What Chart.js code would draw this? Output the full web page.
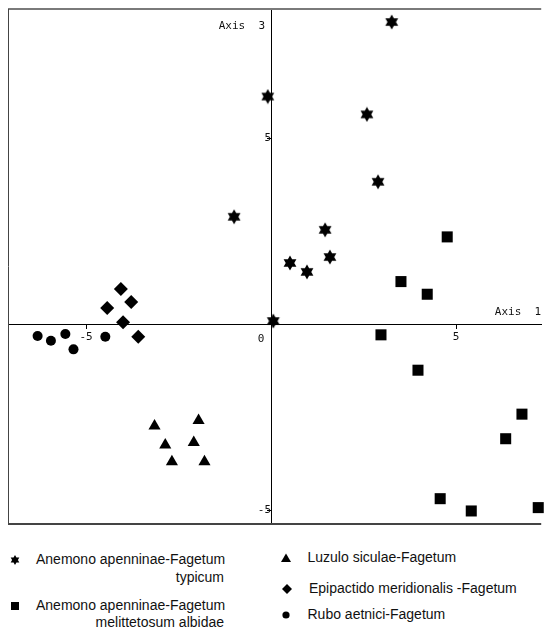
<!DOCTYPE html>
<html>
<head>
<meta charset="utf-8">
<script src="https://cdn.jsdelivr.net/npm/chart.js@4/dist/chart.umd.min.js"></script>
<style>
  body { margin: 0; background: #fff; width: 549px; height: 631px; position: relative; overflow: hidden; font-family: "Liberation Sans", Arial, sans-serif; }
  #wrap { position: absolute; left: 0; top: 0; width: 549px; height: 535px; }
  .leg { position: absolute; font-size: 14px; line-height: 17.6px; color: #111; white-space: nowrap; }
  .leg span { display: block; }
  .leg span.r { text-align: right; }
  canvas.mk { position: absolute; }
</style>
</head>
<body>
<div id="wrap"><canvas id="chart" width="549" height="535"></canvas></div>
<div id="legend"></div>
<script>
// axis ranges and ticks
const xMin = -7.11, xMax = 7.30;
const yMin = -5.36, yMax = 8.47;
const xTickValues = [-5, 0, 5];
const yTickValues = [-5, 0, 5];
const axisTitles = ['Axis  1', 'Axis  3'];
const originLabel = '0';

// series
const seriesLabels = [
  ['Anemono apenninae-Fagetum', 'typicum'],
  ['Anemono apenninae-Fagetum', 'melittetosum albidae'],
  ['Luzulo siculae-Fagetum'],
  ['Epipactido meridionalis -Fagetum'],
  ['Rubo aetnici-Fagetum']
];

const typicumX = [3.26, -0.09, 2.59, 2.89, -1.00, 1.46, 0.51, 0.97, 1.59, 0.06];
const typicumY = [8.12, 6.12, 5.64, 3.83, 2.89, 2.54, 1.65, 1.41, 1.81, 0.09];

const melittX = [4.76, 3.51, 4.22, 2.97, 3.97, 6.78, 6.34, 4.57, 5.41, 7.22];
const melittY = [2.35, 1.15, 0.81, -0.28, -1.23, -2.41, -3.07, -4.68, -5.01, -4.92];

const luzuloX = [-3.15, -1.96, -2.86, -2.09, -2.68, -1.80];
const luzuloY = [-2.73, -2.58, -3.24, -3.17, -3.69, -3.69];

const epipactidoX = [-4.06, -3.78, -4.43, -4.00, -3.59];
const epipactidoY = [0.95, 0.60, 0.44, 0.06, -0.33];

const ruboX = [-6.31, -5.95, -5.56, -5.34, -4.48];
const ruboY = [-0.31, -0.44, -0.26, -0.67, -0.33];

const toPoints = (xs, ys) => xs.map((x, i) => ({ x: x, y: ys[i] }));

// filled six-pointed star
function hexagram(ctx, cx, cy, R) {
  ctx.beginPath();
  for (let t = 0; t < 2; t++) {
    for (let i = 0; i < 3; i++) {
      const a = -Math.PI / 2 + t * Math.PI + i * 2 * Math.PI / 3;
      const px = cx + R * Math.cos(a), py = cy + R * Math.sin(a);
      if (i === 0) ctx.moveTo(px, py); else ctx.lineTo(px, py);
    }
    ctx.closePath();
  }
  ctx.fill();
}

const starImg = document.createElement('canvas');
starImg.width = 16; starImg.height = 16;
(function () {
  const c = starImg.getContext('2d');
  c.fillStyle = '#000';
  hexagram(c, 8, 8, 7.4);
})();

const FONT = '11px "DejaVu Sans Mono", monospace';

const framePlugin = {
  id: 'frame',
  beforeDatasetsDraw(chart) {
    const { ctx, chartArea: a, scales } = chart;
    const x0 = scales.x.getPixelForValue(0);
    const y0 = scales.y.getPixelForValue(0);
    ctx.save();
    ctx.strokeStyle = '#7a7a7a';
    ctx.lineWidth = 2;
    ctx.beginPath();
    ctx.moveTo(a.left, a.top);
    ctx.lineTo(a.right, a.top);
    ctx.stroke();
    ctx.strokeStyle = '#444';
    ctx.lineWidth = 1;
    ctx.beginPath();
    ctx.moveTo(a.left + 0.5, a.top);
    ctx.lineTo(a.left + 0.5, a.bottom);
    ctx.stroke();
    ctx.lineWidth = 2;
    ctx.beginPath();
    ctx.moveTo(a.left, a.bottom);
    ctx.lineTo(a.right, a.bottom);
    ctx.stroke();

    ctx.fillStyle = '#111';
    ctx.font = FONT;
    ctx.textBaseline = 'middle';
    ctx.textAlign = 'right';
    ctx.fillText(axisTitles[0], a.right, y0 - 12);
    ctx.fillText(axisTitles[1], x0 - 6, a.top + 17);
    ctx.textAlign = 'center';
    ctx.fillText(originLabel, x0 - 10, y0 + 15);
    ctx.restore();
  }
};

// the crossing axes should not push the plot area in
const noPadding = (s) => {
  s.paddingLeft = 0; s.paddingRight = 0; s.paddingTop = 0; s.paddingBottom = 0;
};

const axisCommon = {
  type: 'linear',
  grid: { display: true, drawOnChartArea: false, drawTicks: true, tickLength: 4, color: '#000' },
  border: { display: true, color: '#000', width: 1 },
  afterFit: noPadding,
  ticks: {
    color: '#111',
    padding: 2,
    autoSkip: false,
    maxRotation: 0,
    font: { family: 'DejaVu Sans Mono', size: 11 },
    callback: (v) => (v === 0 ? '' : String(v))
  }
};

new Chart(document.getElementById('chart'), {
  type: 'scatter',
  data: {
    datasets: [
      { label: seriesLabels[0].join(' '), data: toPoints(typicumX, typicumY), pointStyle: starImg, pointRadius: 7 },
      { label: seriesLabels[1].join(' '), data: toPoints(melittX, melittY), pointStyle: 'rect', pointRadius: 7.8 },
      { label: seriesLabels[2].join(' '), data: toPoints(luzuloX, luzuloY), pointStyle: 'triangle', pointRadius: 7 },
      { label: seriesLabels[3].join(' '), data: toPoints(epipactidoX, epipactidoY), pointStyle: 'rectRot', pointRadius: 7 },
      { label: seriesLabels[4].join(' '), data: toPoints(ruboX, ruboY), pointStyle: 'circle', pointRadius: 5 }
    ].map(d => Object.assign(d, { backgroundColor: '#000', borderColor: '#000', borderWidth: 0, clip: false }))
  },
  options: {
    responsive: false,
    animation: false,
    layout: { padding: { left: 8, top: 9, right: 0, bottom: 11 } },
    plugins: { legend: { display: false }, tooltip: { enabled: false } },
    scales: {
      x: Object.assign({}, axisCommon, {
        min: xMin, max: xMax,
        position: { y: 0 },
        afterBuildTicks: (s) => { s.ticks = xTickValues.map(v => ({ value: v })); }
      }),
      y: Object.assign({}, axisCommon, {
        min: yMin, max: yMax,
        position: { x: 0 },
        afterBuildTicks: (s) => { s.ticks = yTickValues.map(v => ({ value: v })); }
      })
    }
  },
  plugins: [framePlugin]
});

// legend (html)
const legendPos = [
  { mx: 15, my: 560, tx: 36, w: 188 },
  { mx: 15, my: 605.7, tx: 36, w: 188 },
  { mx: 286, my: 557.7, tx: 307.5 },
  { mx: 286.7, my: 589, tx: 309 },
  { mx: 286, my: 615, tx: 307.5 }
];

function drawMarker(c, i) {
  c.fillStyle = '#000';
  c.beginPath();
  if (i === 0) { hexagram(c, 7, 7, 5); return; }
  if (i === 1) c.rect(3, 3, 8, 8);
  if (i === 2) { c.moveTo(7, 2.5); c.lineTo(12, 11); c.lineTo(2, 11); c.closePath(); }
  if (i === 3) { c.moveTo(7, 2); c.lineTo(12, 7); c.lineTo(7, 12); c.lineTo(2, 7); c.closePath(); }
  if (i === 4) c.arc(7, 7, 3.6, 0, Math.PI * 2);
  c.fill();
}

const legendEl = document.getElementById('legend');
seriesLabels.forEach((lines, i) => {
  const p = legendPos[i];
  const mk = document.createElement('canvas');
  mk.className = 'mk';
  mk.width = 14; mk.height = 14;
  mk.style.left = (p.mx - 7) + 'px';
  mk.style.top = (p.my - 7) + 'px';
  drawMarker(mk.getContext('2d'), i);
  legendEl.appendChild(mk);

  const div = document.createElement('div');
  div.className = 'leg';
  div.style.left = p.tx + 'px';
  div.style.top = (p.my - 8.8) + 'px';
  if (p.w) div.style.width = p.w + 'px';
  lines.forEach((t, k) => {
    const s = document.createElement('span');
    s.textContent = t;
    if (k > 0) s.className = 'r';
    div.appendChild(s);
  });
  legendEl.appendChild(div);
});
</script>
</body>
</html>
